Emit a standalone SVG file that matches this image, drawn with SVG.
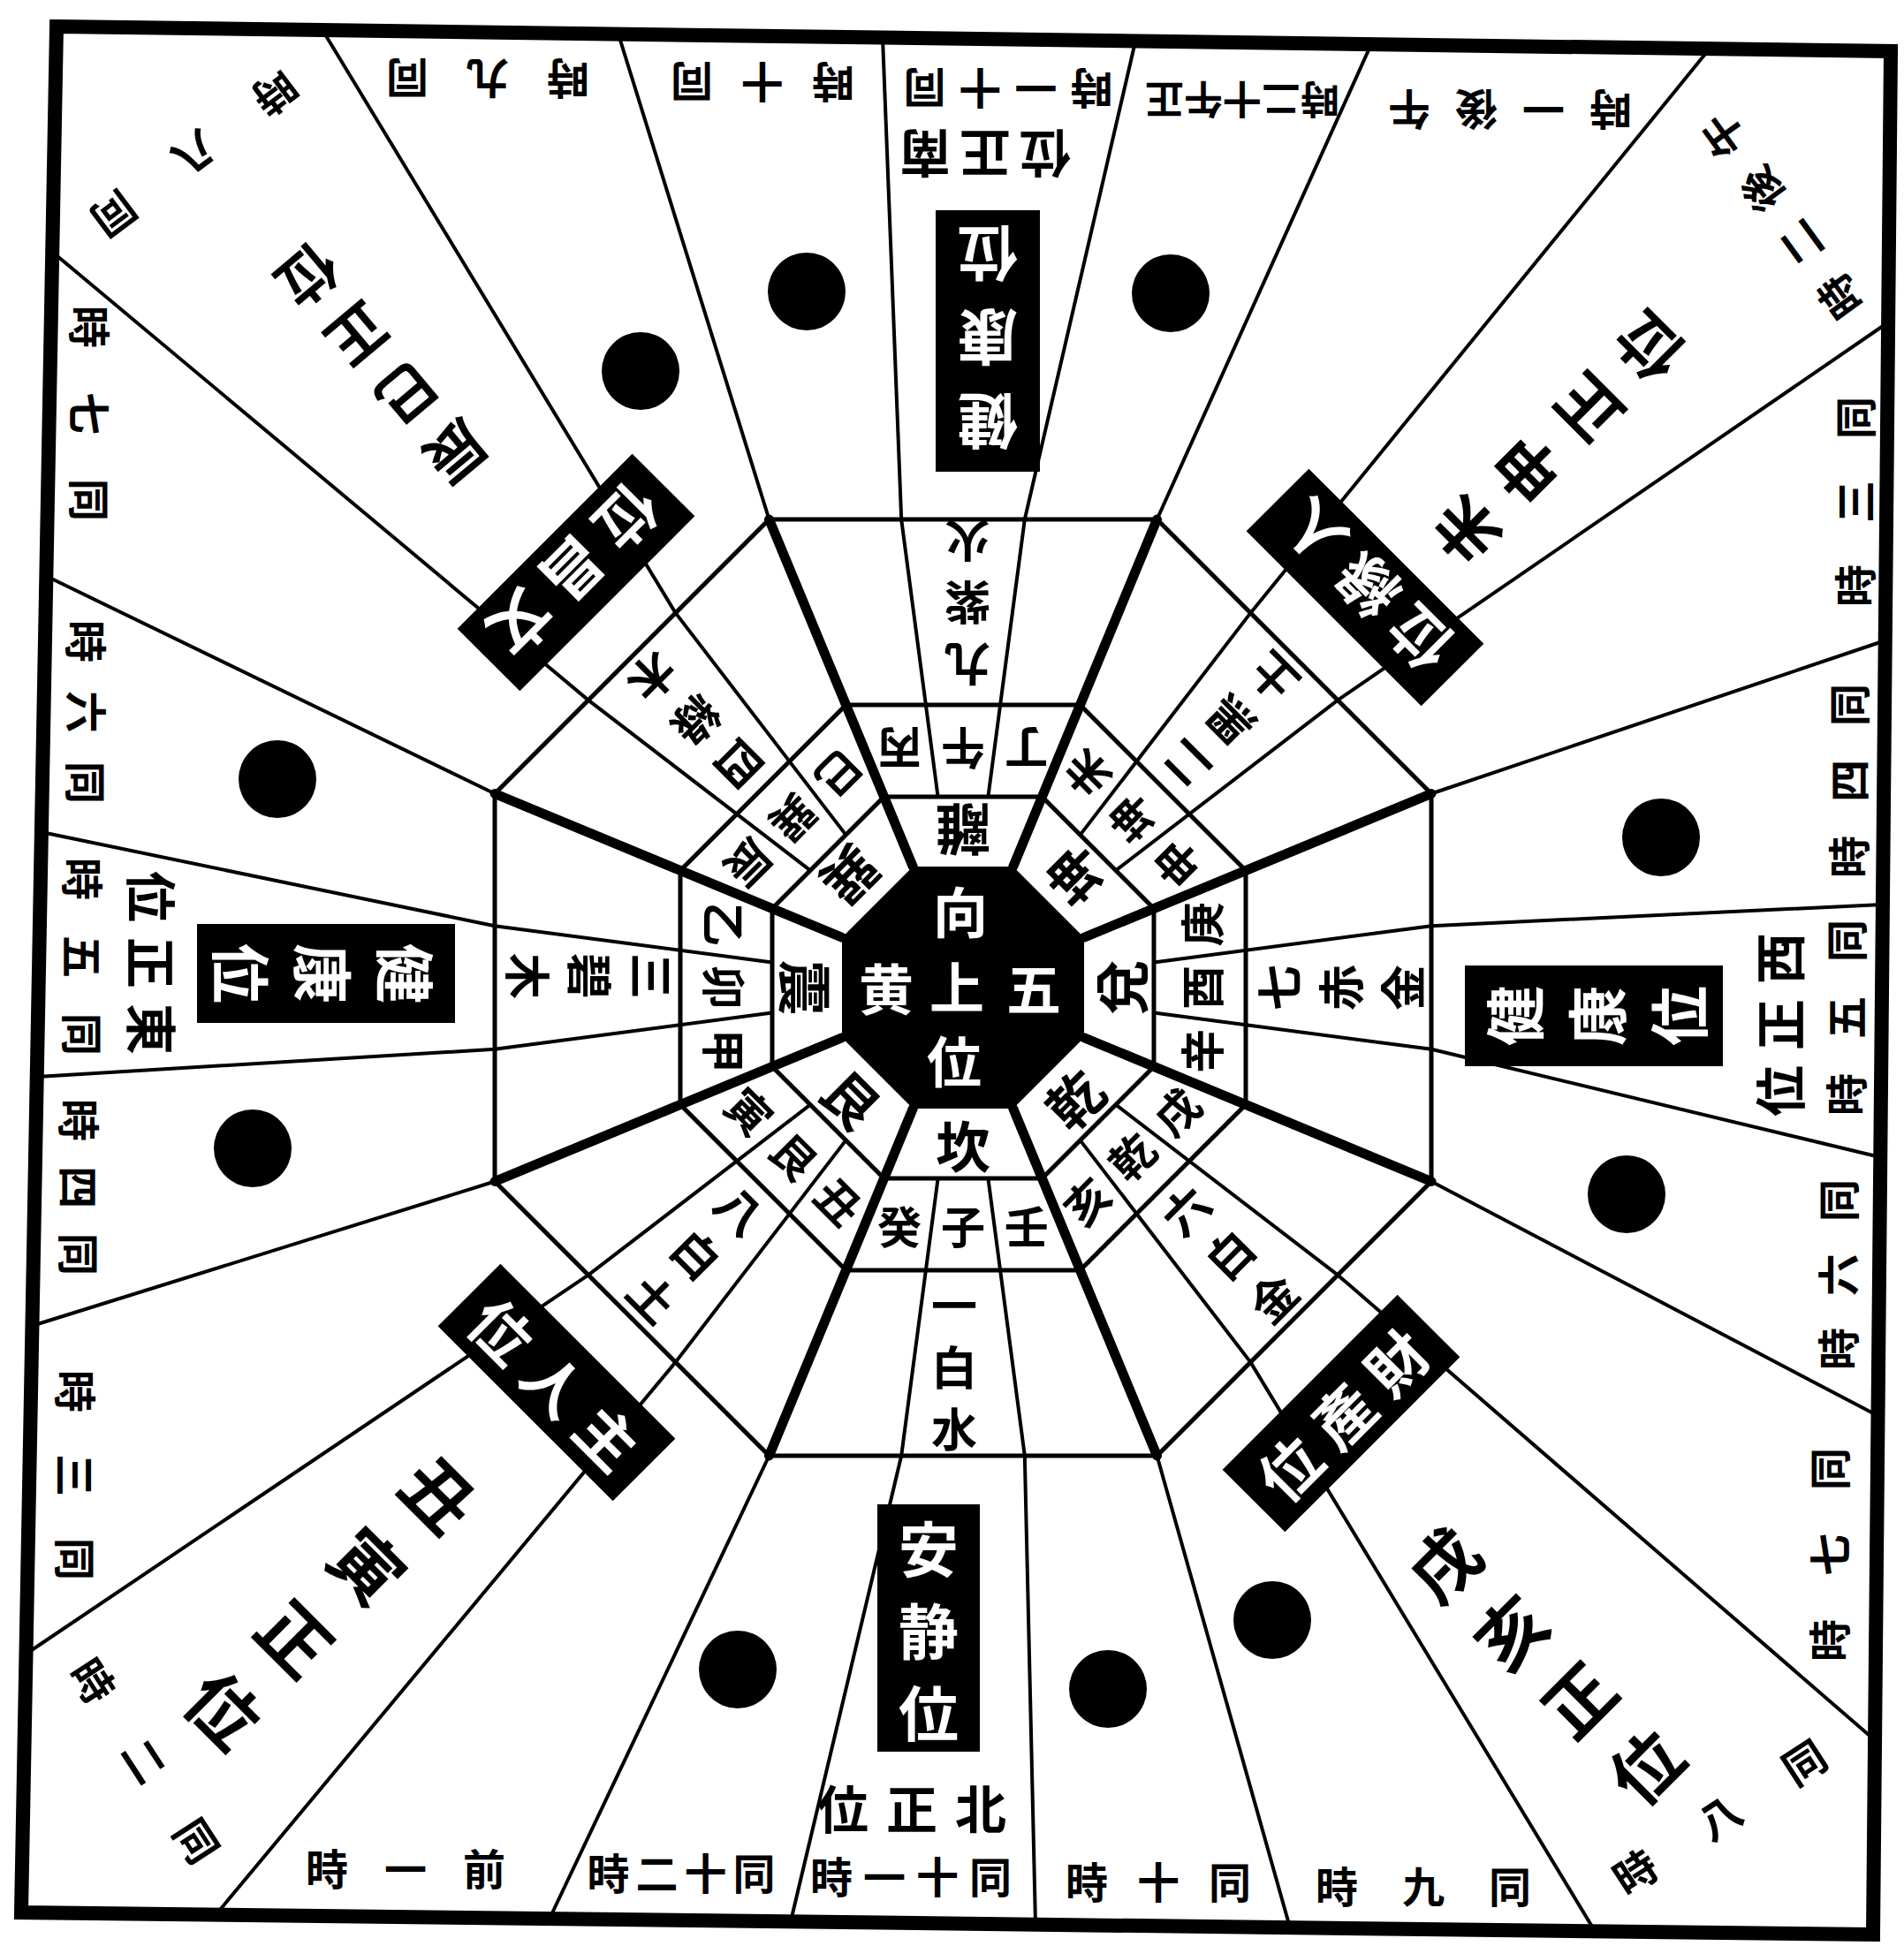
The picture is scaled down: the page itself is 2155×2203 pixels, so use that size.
<svg xmlns="http://www.w3.org/2000/svg" width="2155" height="2203" viewBox="0 0 2155 2203">
<defs>
<style>
.sp{stroke:#000;stroke-width:4;fill:none;stroke-linejoin:round;stroke-linecap:round}
.tk{stroke:#000;stroke-width:11;stroke-linecap:round}
.rg{stroke:#000;stroke-width:5;fill:none}
.bd{stroke:#000;stroke-width:16;fill:none}
.blk{fill:#000}
text{font-family:"Noto Sans CJK JP","Noto Sans CJK SC",sans-serif;font-weight:700;text-anchor:middle;dominant-baseline:central;fill:#000}
.w{fill:#fff}
.hr{font-size:48px}
.ps{font-size:58px}
.bt{font-size:68px}
.bs{font-size:68px}
.st{font-size:52px}
.tg{font-size:62px}
.mt{font-size:50px}
.ct{font-size:62px}
</style>
</defs>
<rect width="2155" height="2203" fill="#fff"/>

<g id="connectors">
<polyline class="sp" points="957.4,945.1 764.6,693.9 365,34"/>
<polyline class="sp" points="1061.6,902 1020.2,588 999,43"/>
<polyline class="sp" points="1118.4,902 1159.8,588 1285,47"/>
<polyline class="sp" points="1222.6,945.1 1415.4,693.9 1935,55"/>
<polyline class="sp" points="1262.9,985.4 1514.1,792.6 2137,365"/>
<polyline class="sp" points="1306,1089.6 1620,1048.2 2131,1024"/>
<polyline class="sp" points="1306,1146.4 1620,1187.8 2128,1310"/>
<polyline class="sp" points="1262.9,1250.6 1514.1,1443.4 2122,1970"/>
<polyline class="sp" points="1222.6,1290.9 1415.4,1542.1 1805,2186"/>
<polyline class="sp" points="1118.4,1334 1159.8,1648 1172,2179"/>
<polyline class="sp" points="1061.6,1334 1020.2,1648 895,2175"/>
<polyline class="sp" points="957.4,1290.9 764.6,1542.1 244,2168"/>
<polyline class="sp" points="917.1,1250.6 665.9,1443.4 30,1872"/>
<polyline class="sp" points="874,1146.4 560,1187.8 42,1219"/>
<polyline class="sp" points="874,1089.6 560,1048.2 47,942"/>
<polyline class="sp" points="917.1,985.4 665.9,792.6 59,285"/>
<line class="sp" x1="870.5" y1="588" x2="700" y2="39"/>
<line class="sp" x1="1309.5" y1="588" x2="1552" y2="50"/>
<line class="sp" x1="1620" y1="898.5" x2="2134" y2="725"/>
<line class="sp" x1="1620" y1="1337.5" x2="2126" y2="1603"/>
<line class="sp" x1="1309.5" y1="1648" x2="1460" y2="2182"/>
<line class="sp" x1="870.5" y1="1648" x2="622" y2="2172"/>
<line class="sp" x1="560" y1="1337.5" x2="36" y2="1501"/>
<line class="sp" x1="560" y1="898.5" x2="52" y2="652"/>
<line class="tk" x1="1146.75" y1="981" x2="1309.5" y2="588"/>
<line class="tk" x1="1227" y1="1061.25" x2="1620" y2="898.5"/>
<line class="tk" x1="1227" y1="1174.75" x2="1620" y2="1337.5"/>
<line class="tk" x1="1146.75" y1="1255" x2="1309.5" y2="1648"/>
<line class="tk" x1="1033.25" y1="1255" x2="870.5" y2="1648"/>
<line class="tk" x1="953" y1="1174.75" x2="560" y2="1337.5"/>
<line class="tk" x1="953" y1="1061.25" x2="560" y2="898.5"/>
<line class="tk" x1="1033.25" y1="981" x2="870.5" y2="588"/>
</g>

<g id="rings">
<polygon class="rg" points="1000.5,902 1179.5,902 1306,1028.5 1306,1207.5 1179.5,1334 1000.5,1334 874,1207.5 874,1028.5"/>
<polygon class="rg" points="957.5,798 1222.5,798 1410,985.5 1410,1250.5 1222.5,1438 957.5,1438 770,1250.5 770,985.5"/>
<polygon class="rg" points="870.5,588 1309.5,588 1620,898.5 1620,1337.5 1309.5,1648 870.5,1648 560,1337.5 560,898.5"/>
</g>

<g id="center">
<polygon class="blk" points="1033.25,981 1146.75,981 1227,1061.25 1227,1174.75 1146.75,1255 1033.25,1255 953,1174.75 953,1061.25"/>
<text class="ct w"><tspan x="1170" y="1117">五</tspan><tspan x="1003" y="1117">黄</tspan><tspan x="1087" y="1030">向</tspan><tspan x="1083" y="1115">上</tspan><tspan x="1080" y="1199">位</tspan></text>
</g>

<g id="trigrams">
<text class="tg" transform="translate(1090 941.5) rotate(180)">離</text>
<text class="tg" transform="translate(1214.8 993.2) rotate(225)">坤</text>
<text class="tg" transform="translate(1266.5 1118) rotate(270)">兌</text>
<text class="tg" transform="translate(1214.8 1242.8) rotate(315)">乾</text>
<text class="tg" transform="translate(1090 1294.5)">坎</text>
<text class="tg" transform="translate(965.2 1242.8) rotate(45)">艮</text>
<text class="tg" transform="translate(913.5 1118) rotate(90)">震</text>
<text class="tg" transform="translate(965.2 993.2) rotate(135)">巽</text>
</g>

<g id="mountains">
<text class="mt" transform="translate(1018.2 850) rotate(180)">丙</text>
<text class="mt" transform="translate(1090 850) rotate(180)">午</text>
<text class="mt" transform="translate(1161.8 850) rotate(180)">丁</text>
<text class="mt" transform="translate(1228.7 877.7) rotate(225)">未</text>
<text class="mt" transform="translate(1279.5 928.5) rotate(225)">坤</text>
<text class="mt" transform="translate(1330.3 979.3) rotate(225)">申</text>
<text class="mt" transform="translate(1358 1046.2) rotate(270)">庚</text>
<text class="mt" transform="translate(1358 1118) rotate(270)">酉</text>
<text class="mt" transform="translate(1358 1189.8) rotate(270)">辛</text>
<text class="mt" transform="translate(1330.3 1256.7) rotate(315)">戌</text>
<text class="mt" transform="translate(1279.5 1307.5) rotate(315)">乾</text>
<text class="mt" transform="translate(1228.7 1358.3) rotate(315)">亥</text>
<text class="mt" transform="translate(1161.8 1386)">壬</text>
<text class="mt" transform="translate(1090 1386)">子</text>
<text class="mt" transform="translate(1018.2 1386)">癸</text>
<text class="mt" transform="translate(951.3 1358.3) rotate(45)">丑</text>
<text class="mt" transform="translate(900.5 1307.5) rotate(45)">艮</text>
<text class="mt" transform="translate(849.7 1256.7) rotate(45)">寅</text>
<text class="mt" transform="translate(822 1189.8) rotate(90)">甲</text>
<text class="mt" transform="translate(822 1118) rotate(90)">卯</text>
<text class="mt" transform="translate(822 1046.2) rotate(90)">乙</text>
<text class="mt" transform="translate(849.7 979.3) rotate(135)">辰</text>
<text class="mt" transform="translate(900.5 928.5) rotate(135)">巽</text>
<text class="mt" transform="translate(951.3 877.7) rotate(135)">巳</text>
</g>

<g id="stars">
<text class="st" transform="translate(1095 685) rotate(180)"><tspan x="0" y="-70">九</tspan><tspan x="0" y="0">紫</tspan><tspan x="0" y="70">火</tspan></text>
<text class="st" transform="translate(1390 818) rotate(225)"><tspan x="0" y="-70">二</tspan><tspan x="0" y="0">黑</tspan><tspan x="0" y="70">土</tspan></text>
<text class="st" transform="translate(1515 1118) rotate(-90)"><tspan x="0" y="-70">七</tspan><tspan x="0" y="0">赤</tspan><tspan x="0" y="70">金</tspan></text>
<text class="st" transform="translate(1390 1418) rotate(-45)"><tspan x="0" y="-70">六</tspan><tspan x="0" y="0">白</tspan><tspan x="0" y="70">金</tspan></text>
<text class="st" transform="translate(1080 1545)"><tspan x="0" y="-70">一</tspan><tspan x="0" y="0">白</tspan><tspan x="0" y="70">水</tspan></text>
<text class="st" transform="translate(790 1418) rotate(45)"><tspan x="0" y="-70">八</tspan><tspan x="0" y="0">白</tspan><tspan x="0" y="70">土</tspan></text>
<text class="st" transform="translate(670 1105) rotate(90)"><tspan x="0" y="-70">三</tspan><tspan x="0" y="0">碧</tspan><tspan x="0" y="70">木</tspan></text>
<text class="st" transform="translate(790 818) rotate(135)"><tspan x="0" y="-70">四</tspan><tspan x="0" y="0">綠</tspan><tspan x="0" y="70">木</tspan></text>
</g>

<g id="dots">
<circle class="blk" cx="725" cy="420" r="44"/>
<circle class="blk" cx="913" cy="330" r="44"/>
<circle class="blk" cx="1325" cy="332" r="44"/>
<circle class="blk" cx="314" cy="882" r="44"/>
<circle class="blk" cx="286" cy="1300" r="44"/>
<circle class="blk" cx="1880" cy="948" r="44"/>
<circle class="blk" cx="1841" cy="1352" r="44"/>
<circle class="blk" cx="835" cy="1890" r="44"/>
<circle class="blk" cx="1254" cy="1912" r="44"/>
<circle class="blk" cx="1440" cy="1834" r="44"/>
</g>

<g id="box-top" transform="translate(1118 386) rotate(180)">
<rect class="blk" x="-59" y="-148" width="118" height="296"/>
<text class="bt w"><tspan x="0" y="-95">健</tspan><tspan x="0" y="0">康</tspan><tspan x="0" y="95">位</tspan></text>
</g>
<g id="box-bottom" transform="translate(1051 1843)">
<rect class="blk" x="-58" y="-140" width="116" height="280"/>
<text class="bt w"><tspan x="0" y="-93">安</tspan><tspan x="0" y="0">静</tspan><tspan x="0" y="93">位</tspan></text>
</g>
<g id="box-left" transform="translate(369 1102) rotate(90)">
<rect class="blk" x="-56" y="-146" width="112" height="292"/>
<text class="bs w"><tspan x="0" y="-93">健</tspan><tspan x="0" y="0">康</tspan><tspan x="0" y="93">位</tspan></text>
</g>
<g id="box-right" transform="translate(1804 1150) rotate(-90)">
<rect class="blk" x="-57" y="-146" width="114" height="292"/>
<text class="bs w"><tspan x="0" y="-93">健</tspan><tspan x="0" y="0">康</tspan><tspan x="0" y="93">位</tspan></text>
</g>
<g id="box-tl" transform="translate(652 648) rotate(135)">
<rect class="blk" x="-140" y="-50" width="280" height="100"/>
<text class="bt w"><tspan x="85" y="0">文</tspan><tspan x="0" y="0">昌</tspan><tspan x="-85" y="0">位</tspan></text>
</g>
<g id="box-tr" transform="translate(1545 665) rotate(225)">
<rect class="blk" x="-140" y="-50" width="280" height="100"/>
<text class="bt w"><tspan x="85" y="0">人</tspan><tspan x="0" y="0">緣</tspan><tspan x="-85" y="0">位</tspan></text>
</g>
<g id="box-br" transform="translate(1518 1600) rotate(-45)">
<rect class="blk" x="-140" y="-50" width="280" height="100"/>
<text class="bt w"><tspan x="85" y="0">財</tspan><tspan x="0" y="0">產</tspan><tspan x="-85" y="0">位</tspan></text>
</g>
<g id="box-bl" transform="translate(630 1565) rotate(45)">
<rect class="blk" x="-140" y="-50" width="280" height="100"/>
<text class="bt w"><tspan x="85" y="0">主</tspan><tspan x="0" y="0">人</tspan><tspan x="-85" y="0">位</tspan></text>
</g>

<g id="directions">
<text class="ps" transform="translate(1115 177) rotate(180)"><tspan x="68" y="0">南</tspan><tspan x="0" y="0">正</tspan><tspan x="-68" y="0">位</tspan></text>
<text class="ps" transform="translate(1032 2045)"><tspan x="78" y="0">北</tspan><tspan x="0" y="0">正</tspan><tspan x="-78" y="0">位</tspan></text>
<text class="ps" transform="translate(174 1090) rotate(90)"><tspan x="75" y="0">東</tspan><tspan x="0" y="0">正</tspan><tspan x="-75" y="0">位</tspan></text>
<text class="ps" transform="translate(2012 1160) rotate(-90)"><tspan x="75" y="0">西</tspan><tspan x="0" y="0">正</tspan><tspan x="-75" y="0">位</tspan></text>
<text style="font-size:66px" transform="translate(435 415) rotate(140)"><tspan x="0" y="-130.5">辰</tspan><tspan x="0" y="-43.5">巳</tspan><tspan x="0" y="43.5">正</tspan><tspan x="0" y="130.5">位</tspan></text>
<text style="font-size:72px" transform="translate(1760 500) rotate(225)"><tspan x="0" y="-147">未</tspan><tspan x="0" y="-49">申</tspan><tspan x="0" y="49">正</tspan><tspan x="0" y="147">位</tspan></text>
<text style="font-size:78px" transform="translate(1746 1883) rotate(-45)"><tspan x="0" y="-162">戌</tspan><tspan x="0" y="-54">亥</tspan><tspan x="0" y="54">正</tspan><tspan x="0" y="162">位</tspan></text>
<text style="font-size:80px" transform="translate(378 1811) rotate(45)"><tspan x="0" y="-172.5">丑</tspan><tspan x="0" y="-57.5">寅</tspan><tspan x="0" y="57.5">正</tspan><tspan x="0" y="172.5">位</tspan></text>
</g>

<g id="hours">
<text class="hr" transform="translate(552 92) rotate(180)"><tspan x="91" y="0">同</tspan><tspan x="0" y="0">九</tspan><tspan x="-91" y="0">時</tspan></text>
<text class="hr" transform="translate(863 96) rotate(180)"><tspan x="80" y="0">同</tspan><tspan x="0" y="0">十</tspan><tspan x="-80" y="0">時</tspan></text>
<text class="hr" transform="translate(1141 103) rotate(180)"><tspan x="94.5" y="0">同</tspan><tspan x="31.5" y="0">十</tspan><tspan x="-31.5" y="0">一</tspan><tspan x="-94.5" y="0">時</tspan></text>
<text class="hr" style="font-size:44px" transform="translate(1406 115) rotate(180)"><tspan x="88" y="0">正</tspan><tspan x="44" y="0">午</tspan><tspan x="0" y="0">十</tspan><tspan x="-44" y="0">二</tspan><tspan x="-88" y="0">時</tspan></text>
<text class="hr" transform="translate(1709 127) rotate(180)"><tspan x="114" y="0">午</tspan><tspan x="38" y="0">後</tspan><tspan x="-38" y="0">一</tspan><tspan x="-114" y="0">時</tspan></text>
<text class="hr" transform="translate(222 176) rotate(143)"><tspan x="114" y="0">同</tspan><tspan x="0" y="0">八</tspan><tspan x="-114" y="0">時</tspan></text>
<text class="hr" transform="translate(2014 246) rotate(234)"><tspan x="112.5" y="0">午</tspan><tspan x="37.5" y="0">後</tspan><tspan x="-37.5" y="0">二</tspan><tspan x="-112.5" y="0">時</tspan></text>
<text class="hr" transform="translate(2097 568) rotate(-90)"><tspan x="95" y="0">同</tspan><tspan x="0" y="0">三</tspan><tspan x="-95" y="0">時</tspan></text>
<text class="hr" transform="translate(2090 884) rotate(-90)"><tspan x="86" y="0">同</tspan><tspan x="0" y="0">四</tspan><tspan x="-86" y="0">時</tspan></text>
<text class="hr" transform="translate(2087 1152) rotate(-90)"><tspan x="87" y="0">同</tspan><tspan x="0" y="0">五</tspan><tspan x="-87" y="0">時</tspan></text>
<text class="hr" transform="translate(2078 1443) rotate(-90)"><tspan x="84" y="0">同</tspan><tspan x="0" y="0">六</tspan><tspan x="-84" y="0">時</tspan></text>
<text class="hr" transform="translate(2068 1760) rotate(-90)"><tspan x="97" y="0">同</tspan><tspan x="0" y="0">七</tspan><tspan x="-97" y="0">時</tspan></text>
<text class="hr" transform="translate(1945 2055) rotate(-33)"><tspan x="114" y="0">同</tspan><tspan x="0" y="0">八</tspan><tspan x="-114" y="0">時</tspan></text>
<text class="hr" transform="translate(1611 2133)"><tspan x="98" y="0">同</tspan><tspan x="0" y="0">九</tspan><tspan x="-98" y="0">時</tspan></text>
<text class="hr" transform="translate(1311 2128)"><tspan x="81" y="0">同</tspan><tspan x="0" y="0">十</tspan><tspan x="-81" y="0">時</tspan></text>
<text class="hr" transform="translate(1031 2122)"><tspan x="90" y="0">同</tspan><tspan x="30" y="0">十</tspan><tspan x="-30" y="0">一</tspan><tspan x="-90" y="0">時</tspan></text>
<text class="hr" transform="translate(771 2118)"><tspan x="82.5" y="0">同</tspan><tspan x="27.5" y="0">十</tspan><tspan x="-27.5" y="0">二</tspan><tspan x="-82.5" y="0">時</tspan></text>
<text class="hr" transform="translate(459 2113)"><tspan x="89" y="0">前</tspan><tspan x="0" y="0">一</tspan><tspan x="-89" y="0">時</tspan></text>
<text class="hr" transform="translate(166 1992) rotate(57)"><tspan x="108" y="0">同</tspan><tspan x="0" y="0">二</tspan><tspan x="-108" y="0">時</tspan></text>
<text class="hr" transform="translate(88 1670) rotate(90)"><tspan x="95" y="0">同</tspan><tspan x="0" y="0">三</tspan><tspan x="-95" y="0">時</tspan></text>
<text class="hr" transform="translate(92 1344) rotate(90)"><tspan x="76" y="0">同</tspan><tspan x="0" y="0">四</tspan><tspan x="-76" y="0">時</tspan></text>
<text class="hr" transform="translate(96 1083) rotate(90)"><tspan x="88" y="0">同</tspan><tspan x="0" y="0">五</tspan><tspan x="-88" y="0">時</tspan></text>
<text class="hr" transform="translate(100 806) rotate(90)"><tspan x="80" y="0">同</tspan><tspan x="0" y="0">六</tspan><tspan x="-80" y="0">時</tspan></text>
<text class="hr" transform="translate(104 468) rotate(90)"><tspan x="98" y="0">同</tspan><tspan x="0" y="0">七</tspan><tspan x="-98" y="0">時</tspan></text>
</g>

<g id="frame">
<polygon class="bd" points="64,30 2140,58 2120,2190 24,2165"/>
</g>
</svg>
